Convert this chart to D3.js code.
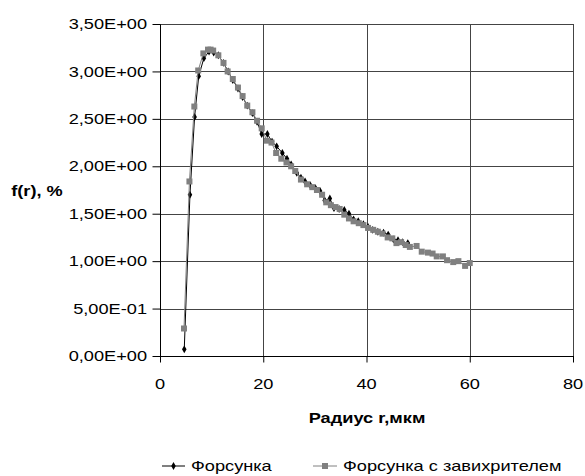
<!DOCTYPE html>
<html>
<head>
<meta charset="utf-8">
<script src="https://cdn.jsdelivr.net/npm/d3@7"></script>
<style>
  body { margin: 0; background: #fff; }
  text { font-family: "Liberation Sans", Arial, sans-serif; fill: #000; }
</style>
</head>
<body>
<svg id="chart" width="585" height="476"></svg>
<script>
// series 1: Форсунка (black diamonds)
var r1 = [4.7, 5.8, 6.7, 7.5, 8.5, 9.5, 10.4, 11.3, 12.3, 13.2, 14.1, 15.1, 16.0, 16.9, 17.9, 18.8,
  19.7, 20.8, 21.7, 22.6, 23.7, 24.6, 25.4, 26.5, 27.3, 28.1, 29.1, 30.1, 31.0, 31.9, 32.9, 33.7,
  34.7, 35.7, 36.6, 37.5, 38.4, 39.4, 40.3, 41.2, 42.2, 43.3, 44.2, 45.2, 46.1, 47.0, 48.0];
var f1 = [0.07, 1.70, 2.52, 2.95, 3.14, 3.21, 3.20, 3.17, 3.09, 3.00, 2.91, 2.82, 2.73, 2.64, 2.56, 2.47,
  2.34, 2.34, 2.26, 2.21, 2.14, 2.08, 2.02, 1.93, 1.88, 1.84, 1.80, 1.77, 1.74, 1.64, 1.66, 1.56,
  1.55, 1.54, 1.50, 1.44, 1.42, 1.39, 1.36, 1.33, 1.31, 1.30, 1.28, 1.23, 1.22, 1.20, 1.19];

// series 2: Форсунка с завихрителем (gray squares)
var r2 = [4.65, 5.7, 6.65, 7.4, 8.4, 9.3, 9.8, 10.3, 11.3, 12.3, 13.1, 14.1, 15.1, 16.0, 16.9, 17.9,
  18.8, 19.7, 20.7, 21.6, 22.5, 23.5, 24.5, 25.4, 26.2, 27.3, 28.5, 29.5, 30.4, 31.4, 32.2, 33.1,
  34.0, 34.8, 35.7, 36.6, 37.5, 38.5, 39.4, 40.3, 41.3, 42.2, 43.1, 44.1, 45.0, 45.8, 46.7, 47.6,
  48.4, 49.7, 50.7, 51.9, 52.8, 53.6, 54.8, 55.6, 56.8, 57.8, 59.1, 60.0];
var f2 = [0.29, 1.84, 2.63, 3.01, 3.19, 3.23, 3.23, 3.22, 3.17, 3.09, 3.00, 2.92, 2.83, 2.74, 2.64, 2.57,
  2.48, 2.40, 2.27, 2.25, 2.14, 2.08, 2.04, 2.00, 1.95, 1.86, 1.81, 1.78, 1.75, 1.70, 1.62, 1.59,
  1.57, 1.55, 1.49, 1.45, 1.42, 1.40, 1.38, 1.35, 1.33, 1.31, 1.29, 1.25, 1.24, 1.19, 1.20, 1.17,
  1.15, 1.16, 1.10, 1.09, 1.08, 1.05, 1.05, 1.01, 0.99, 1.00, 0.95, 0.98];

var xTicks = [0, 20, 40, 60, 80];
var yTicks = [0, 0.5, 1.0, 1.5, 2.0, 2.5, 3.0, 3.5];
var yTickLabels = ["0,00E+00", "5,00E-01", "1,00E+00", "1,50E+00", "2,00E+00", "2,50E+00", "3,00E+00", "3,50E+00"];
var seriesNames = ["Форсунка", "Форсунка с завихрителем"];

var svg = d3.select("#chart");
var stretch = 1.3;  // the reference text is drawn wide

var x = d3.scaleLinear().domain([0, 80]).range([160, 573]);
var y = d3.scaleLinear().domain([0, 3.5]).range([356, 24]);

function label(g, px, py, str, anchor, bold) {
  g.append("text")
    .attr("transform", "translate(" + px + "," + py + ") scale(" + stretch + ",1)")
    .attr("text-anchor", anchor)
    .attr("dominant-baseline", "central")
    .style("font-size", "14px")
    .style("font-weight", bold ? "bold" : "normal")
    .text(str);
}

// grid
var grid = svg.append("g").attr("class", "grid");
grid.selectAll("line.h")
  .data(yTicks.slice(1))
  .enter().append("line")
    .attr("x1", x(0)).attr("x2", x(80))
    .attr("y1", function(d) { return Math.round(y(d)) + 0.5; })
    .attr("y2", function(d) { return Math.round(y(d)) + 0.5; })
    .attr("stroke", "#444").attr("stroke-width", 1);
grid.selectAll("line.v")
  .data(xTicks.slice(1))
  .enter().append("line")
    .attr("y1", y(0)).attr("y2", y(3.5))
    .attr("x1", function(d) { return Math.round(x(d)) + 0.5; })
    .attr("x2", function(d) { return Math.round(x(d)) + 0.5; })
    .attr("stroke", "#444").attr("stroke-width", 1);

// axes
var yAxis = d3.axisLeft(y).tickValues(yTicks).tickSize(8).tickFormat("");
var xAxis = d3.axisBottom(x).tickValues(xTicks).tickSize(6).tickFormat("");
svg.append("g").attr("transform", "translate(160.5,0)").call(yAxis)
  .call(function(g) { g.select(".domain").attr("d", "M-0,24.5V356.5"); });
svg.append("g").attr("transform", "translate(0,356.5)").call(xAxis)
  .call(function(g) { g.select(".domain").attr("d", "M160,0H574"); });
svg.selectAll(".tick line").attr("stroke", "#000");
svg.selectAll(".domain").attr("stroke", "#000");

var labels = svg.append("g");
yTicks.forEach(function(t, i) { label(labels, 147, y(t), yTickLabels[i], "end", false); });
xTicks.forEach(function(t) { label(labels, x(t), 384, String(t), "middle", false); });
label(labels, 37, 191, "f(r), %", "middle", true);
label(labels, 367, 418, "Радиус r,мкм", "middle", true);

// series
var d1 = r1.map(function(r, i) { return [r, f1[i]]; });
var d2 = r2.map(function(r, i) { return [r, f2[i]]; });
var line = d3.line().x(function(d) { return x(d[0]); }).y(function(d) { return y(d[1]); });
var diamond = d3.symbol().type(d3.symbolDiamond).size(18);

svg.append("path").datum(d1).attr("d", line)
  .attr("fill", "none").attr("stroke", "#000").attr("stroke-width", 1);
svg.append("g").selectAll("path").data(d1).enter().append("path")
  .attr("d", diamond)
  .attr("transform", function(d) { return "translate(" + x(d[0]) + "," + y(d[1]) + ")"; })
  .attr("fill", "#000");

svg.append("path").datum(d2).attr("d", line)
  .attr("fill", "none").attr("stroke", "#808080").attr("stroke-width", 1);
svg.append("g").selectAll("rect").data(d2).enter().append("rect")
  .attr("x", function(d) { return x(d[0]) - 3; })
  .attr("y", function(d) { return y(d[1]) - 3; })
  .attr("width", 6).attr("height", 6)
  .attr("fill", "#808080");

// legend
var leg = svg.append("g");
var ly = 466;
leg.append("line").attr("x1", 162).attr("x2", 185).attr("y1", ly).attr("y2", ly)
  .attr("stroke", "#000");
leg.append("path").attr("d", diamond).attr("transform", "translate(173.5," + ly + ")").attr("fill", "#000");
label(leg, 191, ly, seriesNames[0], "start", false);
leg.append("line").attr("x1", 313).attr("x2", 337).attr("y1", ly).attr("y2", ly)
  .attr("stroke", "#808080");
leg.append("rect").attr("x", 322).attr("y", ly - 3).attr("width", 6).attr("height", 6).attr("fill", "#808080");
label(leg, 343, ly, seriesNames[1], "start", false);
</script>
</body>
</html>
